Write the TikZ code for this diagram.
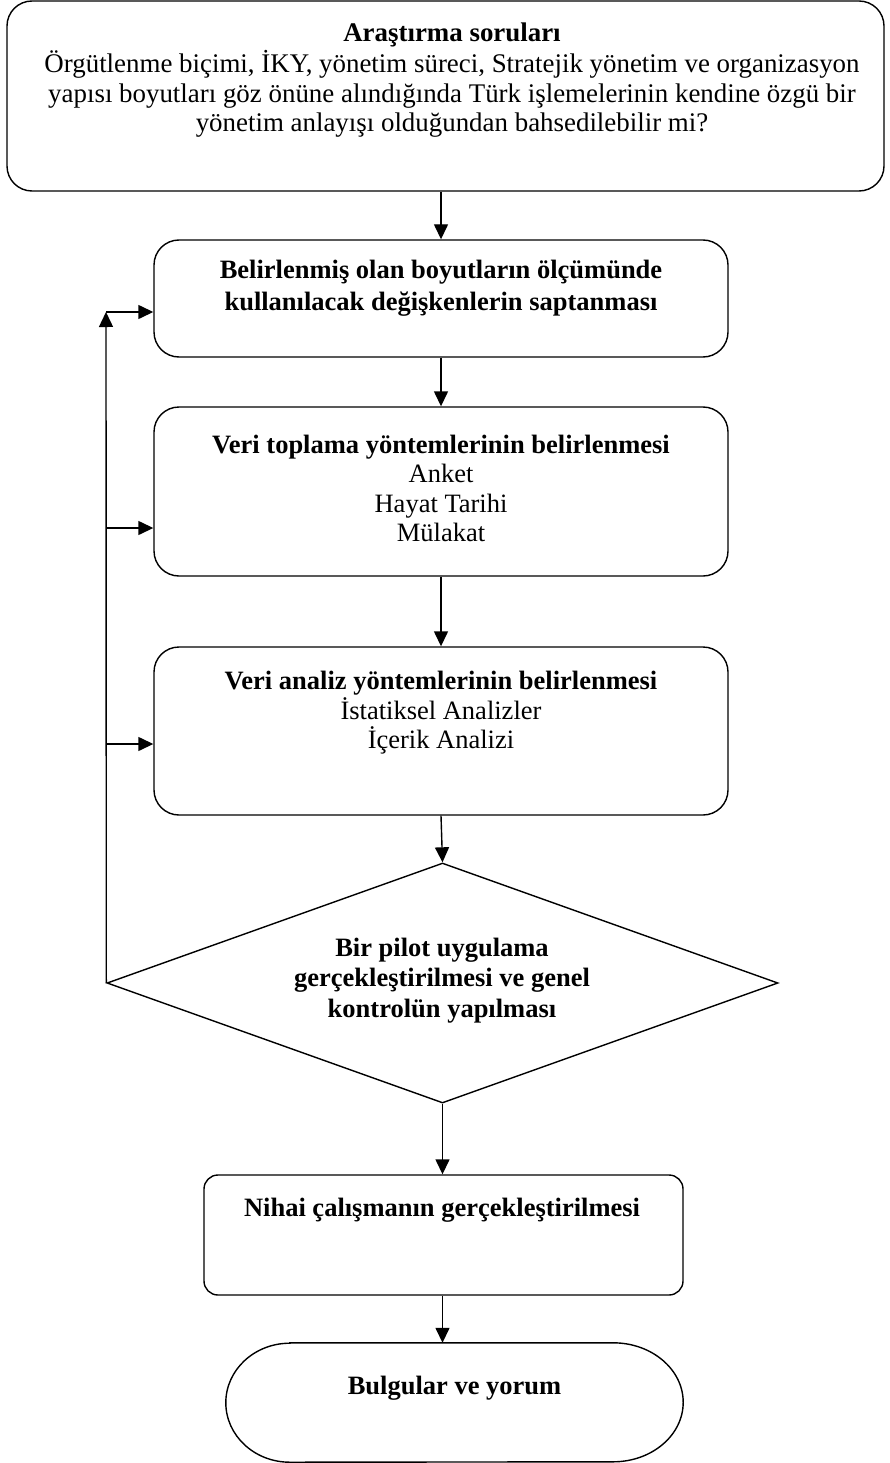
\documentclass[tikz,border=0pt]{standalone}
\usepackage{fontspec}
\setmainfont{Liberation Serif}
\usetikzlibrary{arrows.meta,calc,shapes.geometric}
\begin{document}
\begin{tikzpicture}[x=1pt,y=1pt,
  box/.style={draw, line width=1.4pt, rounded corners=25pt, inner sep=0pt},
  txt/.style={align=center, font=\fontsize{26.5}{29.5}\selectfont, inner sep=0pt},
  btxt/.style={txt, font=\fontsize{26.5}{32}\selectfont\bfseries},
  arr/.style={line width=1.4pt, -{Triangle[length=15pt,width=14pt]}},
  ln/.style={line width=1.4pt}]
\useasboundingbox (0,0) rectangle (889,-1463);
% shapes
\node[box, minimum width=877pt, minimum height=190pt] (b1) at (445.5,-96) {};
\node[box, minimum width=574pt, minimum height=117pt] (b2) at (441,-298.5) {};
\node[box, minimum width=574pt, minimum height=169pt] (b3) at (441,-491.5) {};
\node[box, minimum width=574pt, minimum height=168pt] (b4) at (441,-731) {};
\node[draw, line width=1.4pt, diamond, inner sep=0pt, minimum width=671pt, minimum height=240pt] (dia) at (442.5,-983) {};
\node[box, rounded corners=14pt, minimum width=479pt, minimum height=120pt] (b5) at (443.5,-1235) {};
\node[inner sep=0pt, minimum width=457pt, minimum height=119pt] (term) at (454.5,-1402.5) {};
\draw[ln] ($(term.north west)+(64,0)$) -- ($(term.north east)+(-70,0)$)
  arc[start angle=90, end angle=-90, x radius=70, y radius=59.5]
  -- ($(term.south west)+(64,0)$)
  arc[start angle=270, end angle=90, x radius=64, y radius=59.5] -- cycle;
% texts
\node[txt, font=\fontsize{26.9}{29.5}\selectfont] (t1) at (452,-80) {\textbf{Araştırma soruları}\\[2pt]
  Örgütlenme biçimi, İKY, yönetim süreci, Stratejik yönetim ve organizasyon\\
  yapısı boyutları göz önüne alındığında Türk işlemelerinin kendine özgü bir\\
  yönetim anlayışı olduğundan bahsedilebilir mi?};
\node[btxt] (t2) at (441,-288) {Belirlenmiş olan boyutların ölçümünde\\kullanılacak değişkenlerin saptanması};
\node[txt] (t3) at (441,-488.5) {\textbf{Veri toplama yöntemlerinin belirlenmesi}\\Anket\\Hayat Tarihi\\Mülakat};
\node[txt] (t4) at (441,-713) {\textbf{Veri analiz yöntemlerinin belirlenmesi}\\İstatiksel Analizler\\İçerik Analizi};
\node[btxt, font=\fontsize{26.5}{30.5}\selectfont\bfseries] (t5) at (442,-980.5) {Bir pilot uygulama\\gerçekleştirilmesi ve genel\\kontrolün yapılması};
\node[btxt] (t6) at (442,-1210) {Nihai çalışmanın gerçekleştirilmesi};
\node[btxt] (t7) at (454.5,-1388) {Bulgular ve yorum};
% connectors
\draw[arr] (b2.north |- b1.south) -- (b2.north);
\draw[arr] (b2.south) -- (b3.north);
\draw[arr] (b3.south) -- (b4.north);
\draw[arr] (b4.south) -- (dia.north);
\draw[arr] (dia.south) -- (dia.south |- b5.north);
\draw[arr] (dia.south |- b5.south) -- (dia.south |- term.north);
\coordinate (fb) at (106,-312);
\coordinate (fb3) at (106,-528);
\coordinate (fb4) at (106,-744);
\draw[arr] (dia.west) -- (fb);
\draw[arr] (fb) -- (fb -| b2.west);
\draw[arr] (fb3) -- (fb3 -| b3.west);
\draw[arr] (fb4) -- (fb4 -| b4.west);
\end{tikzpicture}
\end{document}
